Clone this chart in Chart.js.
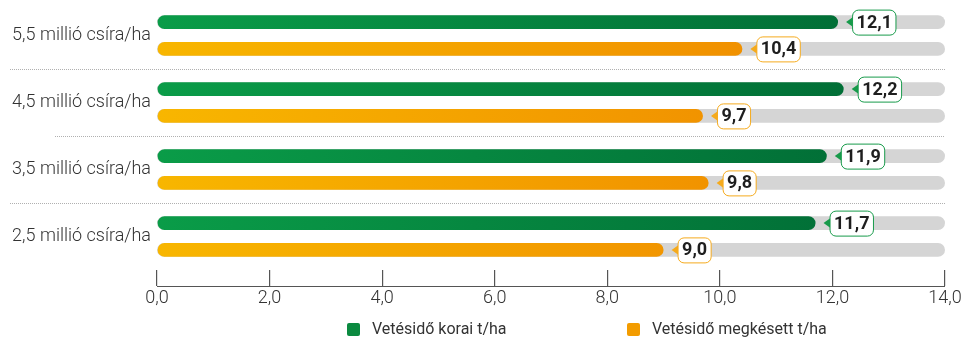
<!DOCTYPE html>
<html lang="hu">
<head>
<meta charset="UTF-8">
<title>Vetésidő és csíraszám</title>
<script src="https://cdn.jsdelivr.net/npm/chart.js@4.4.1/dist/chart.umd.min.js"></script>
<style>
  html, body { margin: 0; padding: 0; background: #fff; }
  #wrap { width: 968px; height: 340px; position: relative; }
</style>
</head>
<body>
<div id="wrap"><canvas id="chart"></canvas></div>
<script>
const categories = ['5,5 millió csíra/ha', '4,5 millió csíra/ha', '3,5 millió csíra/ha', '2,5 millió csíra/ha'];
const seriesNames = ['Vetésidő korai t/ha', 'Vetésidő megkésett t/ha'];
const earlyValues = [12.1, 12.2, 11.9, 11.7];
const lateValues = [10.4, 9.7, 9.8, 9.0];
const axisMax = 14;

const FONT = '"Roboto", "Liberation Sans", sans-serif';
const borderColors = ['#179a4a', '#f5aa1c'];
const legendColors = ['#0b8a40', '#f39c00'];

function hGrad(chart, from, to) {
  const a = chart.chartArea;
  if (!a) return from;
  const g = chart.ctx.createLinearGradient(a.left, 0, a.right, 0);
  g.addColorStop(0, from);
  g.addColorStop(1, to);
  return g;
}

function fmt(v) { return v.toFixed(1).replace('.', ','); }

function roundRect(ctx, x, y, w, h, r) {
  ctx.beginPath();
  ctx.moveTo(x + r, y);
  ctx.lineTo(x + w - r, y);
  ctx.arcTo(x + w, y, x + w, y + r, r);
  ctx.lineTo(x + w, y + h - r);
  ctx.arcTo(x + w, y + h, x + w - r, y + h, r);
  ctx.lineTo(x + r, y + h);
  ctx.arcTo(x, y + h, x, y + h - r, r);
  ctx.lineTo(x, y + r);
  ctx.arcTo(x, y, x + r, y, r);
  ctx.closePath();
}

// grey tracks behind bars, separators, baseline
const backdrop = {
  id: 'backdrop',
  beforeDatasetsDraw(chart) {
    const ctx = chart.ctx, xs = chart.scales.x, ys = chart.scales.y;
    const x0 = xs.getPixelForValue(0), x1 = xs.getPixelForValue(axisMax);
    ctx.save();
    ctx.fillStyle = '#d5d5d5';
    chart.data.datasets.forEach((ds, i) => {
      chart.getDatasetMeta(i).data.forEach(bar => {
        const h = bar.height;
        roundRect(ctx, x0, bar.y - h / 2, x1 - x0, h, h / 2);
        ctx.fill();
      });
    });
    // dotted separators
    const starts = [10, 55, 10];
    ctx.strokeStyle = '#b0b0b0';
    ctx.lineWidth = 1;
    ctx.setLineDash([1, 1]);
    for (let i = 0; i < categories.length - 1; i++) {
      const y = Math.round((ys.getPixelForValue(i) + ys.getPixelForValue(i + 1)) / 2) + 0.5;
      ctx.beginPath();
      ctx.moveTo(starts[i], y);
      ctx.lineTo(x1, y);
      ctx.stroke();
    }
    ctx.setLineDash([]);
    // axis baseline at the bottom of the ticks
    const by = Math.round(chart.chartArea.bottom + 16) + 0.5;
    ctx.strokeStyle = '#555';
    ctx.lineWidth = 1.2;
    ctx.beginPath();
    ctx.moveTo(x0, by);
    ctx.lineTo(x1, by);
    ctx.stroke();
    ctx.restore();
  }
};

// value badges + legend
const badges = {
  id: 'badges',
  afterDatasetsDraw(chart) {
    const ctx = chart.ctx;
    ctx.save();
    ctx.font = 'bold 18px ' + FONT;
    ctx.textBaseline = 'middle';
    ctx.textAlign = 'center';
    chart.data.datasets.forEach((ds, i) => {
      chart.getDatasetMeta(i).data.forEach((bar, j) => {
        const txt = fmt(ds.data[j]);
        const tw = ctx.measureText(txt).width;
        const w = tw + 8, h = 25;
        const bx = bar.x + 14, by = bar.y - h / 2;
        ctx.fillStyle = borderColors[i];
        ctx.beginPath();
        ctx.moveTo(bar.x + 8, bar.y);
        ctx.lineTo(bx + 1, bar.y - 5);
        ctx.lineTo(bx + 1, bar.y + 5);
        ctx.closePath();
        ctx.fill();
        roundRect(ctx, bx + 0.5, by + 0.5, w, h, 6);
        ctx.fillStyle = '#fff';
        ctx.fill();
        ctx.strokeStyle = borderColors[i];
        ctx.lineWidth = 1;
        ctx.stroke();
        ctx.fillStyle = '#1e1e1e';
        ctx.fillText(txt, bx + 0.5 + w / 2, bar.y + 1);
      });
    });
    ctx.restore();
  },
  afterDraw(chart) {
    const ctx = chart.ctx;
    const xs = [347, 627];
    ctx.save();
    ctx.font = '16px ' + FONT;
    ctx.textBaseline = 'middle';
    ctx.textAlign = 'left';
    seriesNames.forEach((name, i) => {
      ctx.fillStyle = legendColors[i];
      roundRect(ctx, xs[i], 323, 13, 13, 2);
      ctx.fill();
      ctx.fillStyle = '#333';
      ctx.fillText(name, xs[i] + 25, 330);
    });
    ctx.restore();
  }
};

new Chart(document.getElementById('chart'), {
  type: 'bar',
  data: {
    labels: categories,
    datasets: [
      {
        label: seriesNames[0],
        data: earlyValues,
        backgroundColor: c => hGrad(c.chart, '#0a9c48', '#006834')
      },
      {
        label: seriesNames[1],
        data: lateValues,
        backgroundColor: c => hGrad(c.chart, '#f8b600', '#ee8400')
      }
    ]
  },
  options: {
    indexAxis: 'y',
    responsive: true,
    maintainAspectRatio: false,
    animation: false,
    datasets: {
      bar: {
        categoryPercentage: 0.8,
        barPercentage: 0.52,
        borderRadius: 7,
        borderSkipped: false
      }
    },
    layout: { padding: { top: 2, right: 23, bottom: 30, left: 0 } },
    plugins: {
      legend: { display: false },
      tooltip: { enabled: false }
    },
    scales: {
      x: {
        min: 0,
        max: axisMax,
        afterFit: s => { s.height = 40; },
        ticks: {
          stepSize: 2,
          padding: 2,
          color: '#333',
          font: { family: FONT, size: 18, weight: 300 },
          callback: v => fmt(v)
        },
        grid: { drawOnChartArea: false, drawTicks: true, tickLength: 16, color: '#555', lineWidth: 1.2 },
        border: { display: false }
      },
      y: {
        afterFit: s => { s.width = 157; s.paddingTop = 0; s.paddingBottom = 0; },
        ticks: {
          padding: 6,
          color: '#333',
          font: { family: FONT, size: 18, weight: 300 }
        },
        grid: { display: false, drawTicks: false, tickLength: 0 },
        border: { display: false }
      }
    }
  },
  plugins: [backdrop, badges]
});
</script>
</body>
</html>
